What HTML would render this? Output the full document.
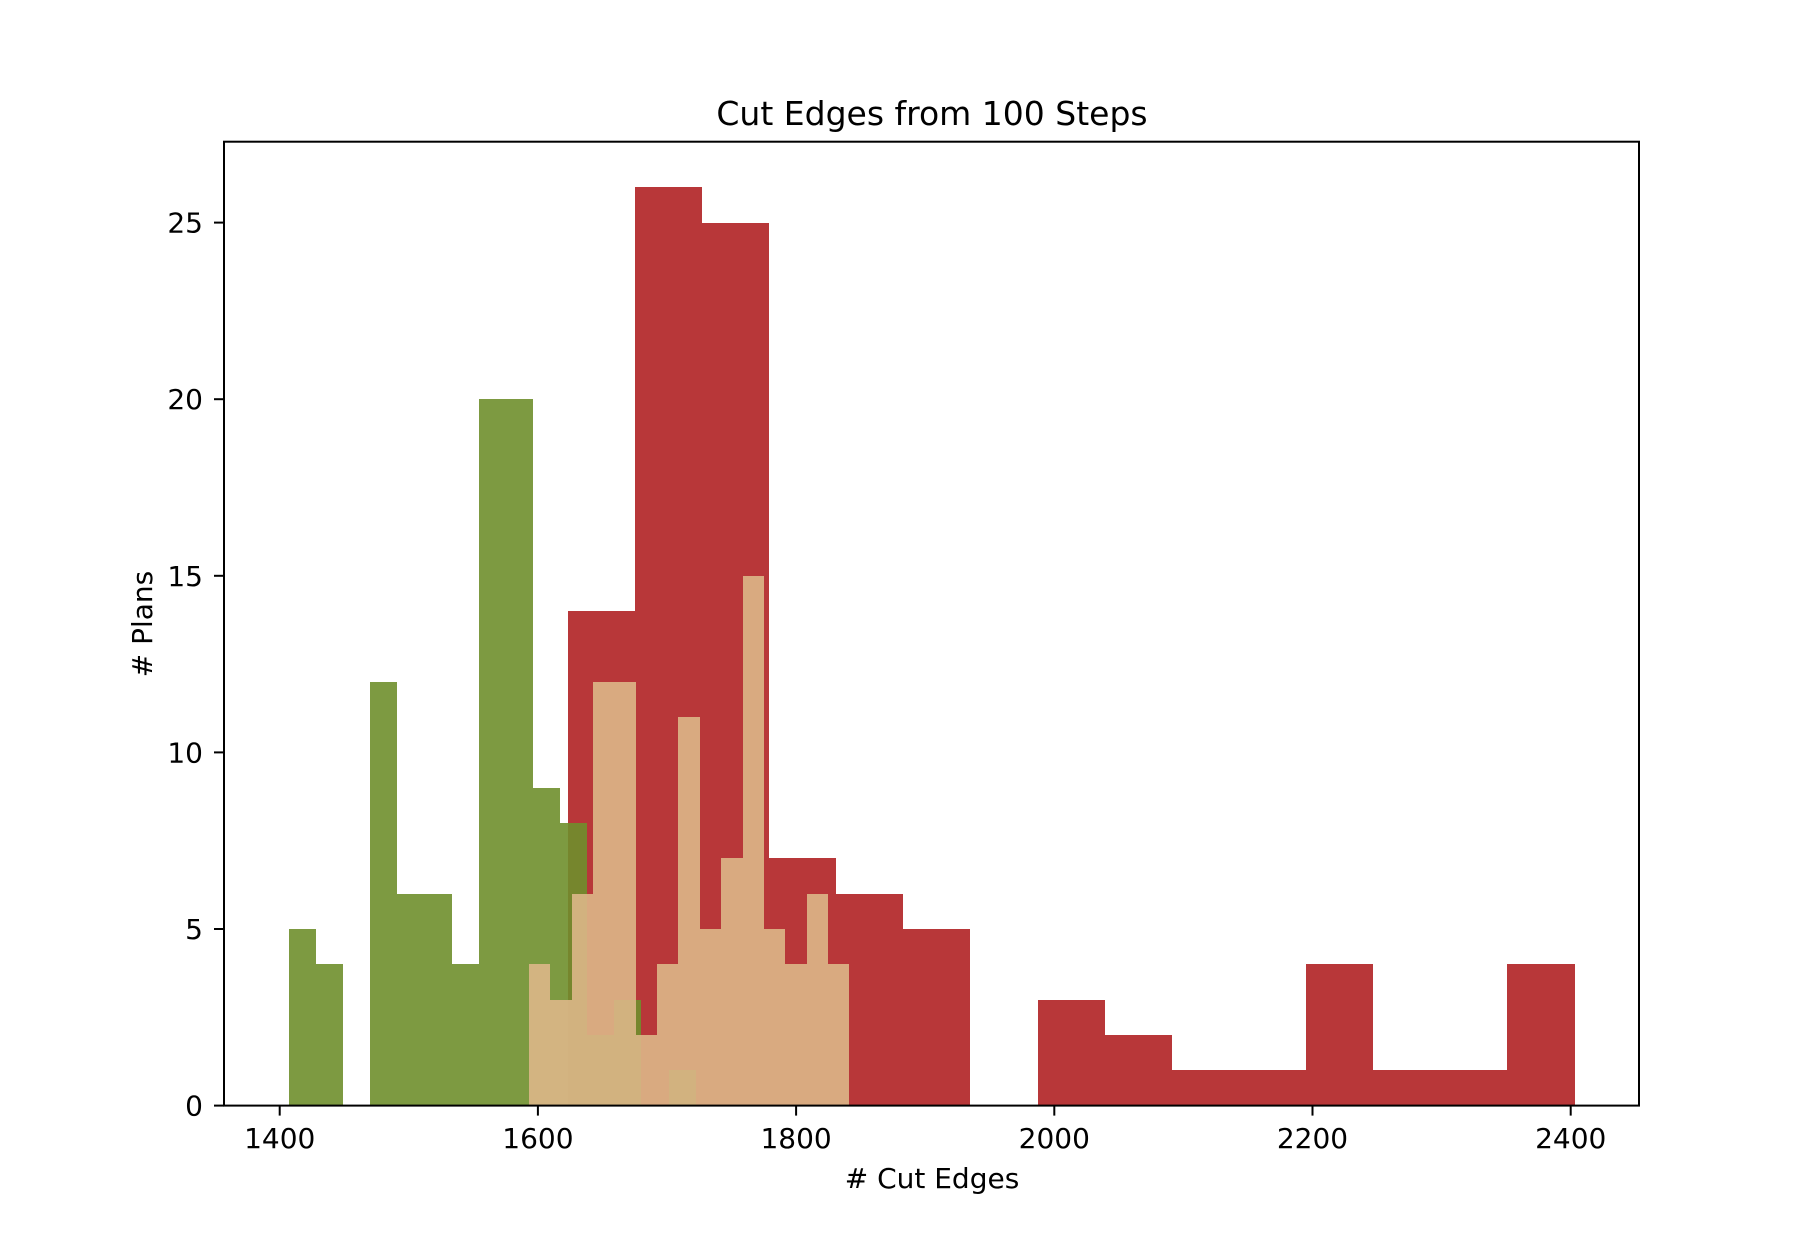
<!DOCTYPE html>
<html><head><meta charset="utf-8"><style>
html,body{margin:0;padding:0;background:#fff;}
svg{display:block;font-family:"DejaVu Sans","Liberation Sans",sans-serif;}
</style></head><body>
<svg id="chart" width="1820" height="1244" viewBox="0 0 1820 1244" xmlns="http://www.w3.org/2000/svg">
<rect width="1820" height="1244" fill="#fff"/>
<g id="bars" shape-rendering="crispEdges"></g>
<g id="axes"></g>
<text x="932" y="125" font-size="33" text-anchor="middle" fill="#000">Cut Edges from 100 Steps</text>
<text x="932" y="1188" font-size="28" text-anchor="middle" fill="#000"># Cut Edges</text>
<text transform="translate(152,624) rotate(-90)" font-size="28" text-anchor="middle" fill="#000"># Plans</text>
</svg>
<script>
const redStart = 1623, redWidth = 52.0;
const redCounts = [14,26,25,7,6,5,0,3,2,1,1,4,1,1,4];
const greenStart = 1407.2, greenWidth = 21.0;
const greenCounts = [5,4,0,12,6,6,4,20,20,9,8,2,3,0,1];
const tanStart = 1593.1, tanWidth = 16.54;
const tanCounts = [4,3,6,12,12,2,4,11,5,7,15,5,4,6,4];
const xTicks = [1400,1600,1800,2000,2200,2400];
const yTicks = [0,5,10,15,20,25];

const L=224, R=1639, T=141.7, B=1105.6;
function xs(v){ return 279.7 + (v-1400)*1.291; }
function ys(v){ return B - v*35.32; }
const NS="http://www.w3.org/2000/svg";
const bars=document.getElementById('bars');
const axes=document.getElementById('axes');
function series(start,width,counts,color,name){
  counts.forEach((c,i)=>{
    if(c<=0) return;
    const r=document.createElementNS(NS,'rect');
    const x0=Math.round(xs(start+i*width)), x1=Math.round(xs(start+(i+1)*width));
    const y0=Math.round(ys(c)), yb=Math.round(B);
    r.setAttribute('x',x0); r.setAttribute('width',x1-x0);
    r.setAttribute('y',y0); r.setAttribute('height',yb-y0);
    r.setAttribute('fill',color); r.setAttribute('fill-opacity','0.9');
    
    
    r.setAttribute('class',name);
    bars.appendChild(r);
  });
}
series(redStart,redWidth,redCounts,'rgb(176,33,35)','red-series');
series(greenStart,greenWidth,greenCounts,'rgb(111,143,44)','green-series');
series(tanStart,tanWidth,tanCounts,'rgb(221,183,136)','tan-series');

const frame=document.createElementNS(NS,'rect');
frame.setAttribute('x',L);frame.setAttribute('y',T);frame.setAttribute('width',R-L);frame.setAttribute('height',B-T);
frame.setAttribute('fill','none');frame.setAttribute('stroke','#000');frame.setAttribute('stroke-width','2');


axes.appendChild(frame);
xTicks.forEach(v=>{
  const l=document.createElementNS(NS,'line');
  l.setAttribute('x1',xs(v));l.setAttribute('x2',xs(v));l.setAttribute('y1',B);l.setAttribute('y2',B+10);
  l.setAttribute('stroke','#000');l.setAttribute('stroke-width','2');
  
  
  axes.appendChild(l);
  const t=document.createElementNS(NS,'text');
  t.setAttribute('x',xs(v));t.setAttribute('y',1148);t.setAttribute('font-size','28');t.setAttribute('text-anchor','middle');
  t.textContent=v;
  
  
  axes.appendChild(t);
});
yTicks.forEach(v=>{
  const l=document.createElementNS(NS,'line');
  l.setAttribute('x1',L-10);l.setAttribute('x2',L);l.setAttribute('y1',ys(v));l.setAttribute('y2',ys(v));
  l.setAttribute('stroke','#000');l.setAttribute('stroke-width','2');
  
  
  axes.appendChild(l);
  const t=document.createElementNS(NS,'text');
  t.setAttribute('x',203);t.setAttribute('y',ys(v)+10);t.setAttribute('font-size','28');t.setAttribute('text-anchor','end');
  t.textContent=v;
  
  
  axes.appendChild(t);
});
</script>
</body></html>
